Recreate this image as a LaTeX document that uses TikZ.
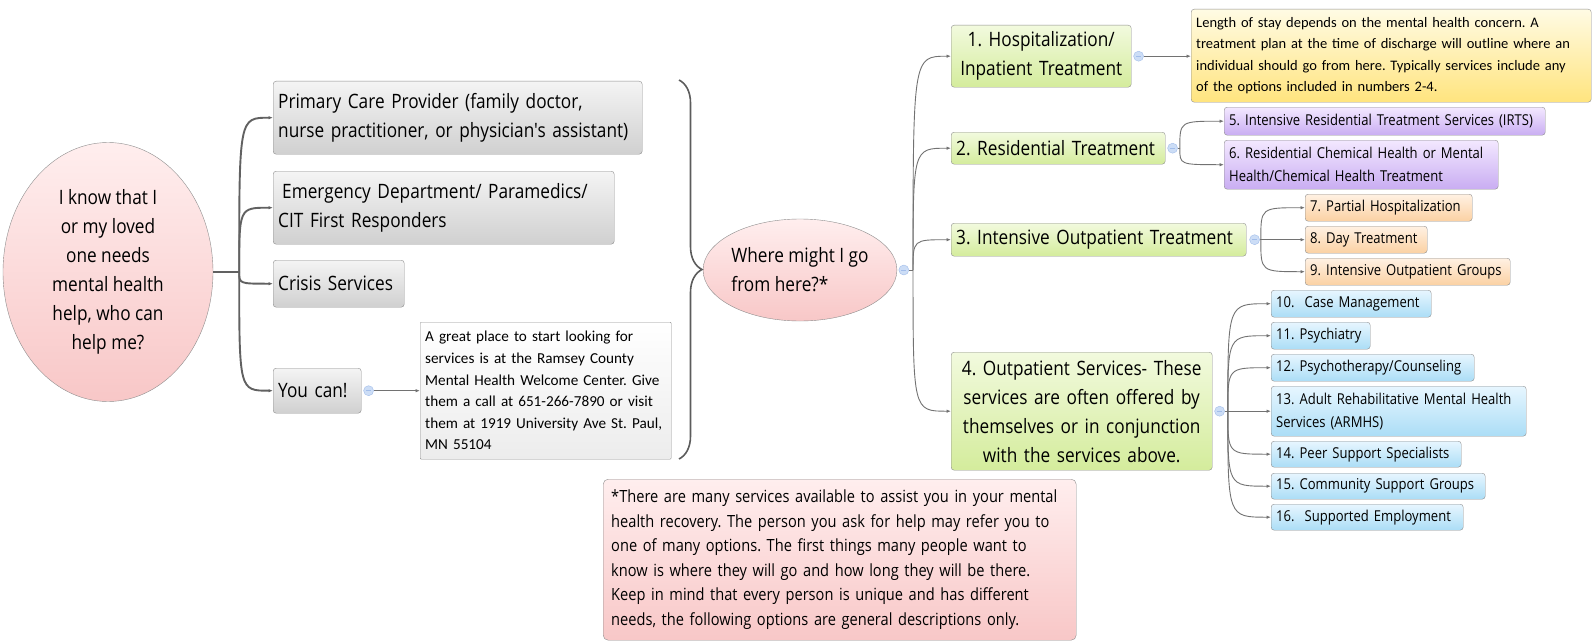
\documentclass[tikz,border=0pt]{standalone}
\usepackage{xcolor}
\usepackage{fontspec}
\usepackage{tikz}
\usetikzlibrary{shapes.geometric,arrows.meta,positioning,decorations.pathreplacing}

\newfontfamily\segoe[FakeStretch=0.87]{Open Sans}
\newfontfamily\calib{Carlito}
\newcommand{\bigtext}{\segoe\fontsize{19.8}{29}\selectfont}
\newcommand{\midtext}{\segoe\fontsize{16.8}{24.5}\selectfont}
\newcommand{\smalltext}{\segoe\fontsize{15}{23}\selectfont}
\newcommand{\notetext}{\calib\fontsize{15.2}{21.6}\selectfont}
\newcommand{\staytext}{\calib\fontsize{14.5}{21.6}\selectfont}
\hyphenpenalty=10000
\exhyphenpenalty=10000

\definecolor{boxline}{HTML}{8E8E8E}
\definecolor{greytop}{HTML}{F4F4F4}
\definecolor{greybot}{HTML}{D0D0D0}
\definecolor{greentop}{HTML}{F2FADE}
\definecolor{greenbot}{HTML}{D4EC9C}
\definecolor{yellowtop}{HTML}{FFFBE4}
\definecolor{yellowbot}{HTML}{FFE47E}
\definecolor{purpletop}{HTML}{F3E8FF}
\definecolor{purplebot}{HTML}{C9ADF2}
\definecolor{orangetop}{HTML}{FFF1E3}
\definecolor{orangebot}{HTML}{FBD1A3}
\definecolor{bluetop}{HTML}{E7F6FF}
\definecolor{bluebot}{HTML}{ABDDF6}
\definecolor{pinktop}{HTML}{FFEEEE}
\definecolor{pinkbot}{HTML}{F8C7C7}
\definecolor{papertop}{HTML}{FFFFFF}
\definecolor{paperbot}{HTML}{ECECEC}
\definecolor{wire}{HTML}{727272}
\definecolor{bracegrey}{HTML}{5C5C5C}
\definecolor{knobfill}{HTML}{CCDDF6}
\definecolor{knobedge}{HTML}{A2BDEA}

\begin{document}
\frenchspacing
\begin{tikzpicture}[x=1pt,y=-1pt]
        \tikzstyle{box} = [rectangle, draw=boxline, rounded corners=3pt, inner xsep=5pt, inner ysep=0pt, anchor=north west, align=left]
        \tikzstyle{grey} = [box, top color=greytop, bottom color=greybot, font=\bigtext]
        \tikzstyle{paper} = [box, top color=papertop, bottom color=paperbot, rounded corners=1pt, font=\notetext]
        \tikzstyle{green} = [box, top color=greentop, bottom color=greenbot, font=\bigtext]
        \tikzstyle{yellow} = [box, top color=yellowtop, bottom color=yellowbot, font=\staytext]
        \tikzstyle{purple} = [box, top color=purpletop, bottom color=purplebot, font=\smalltext]
        \tikzstyle{orange} = [box, top color=orangetop, bottom color=orangebot, font=\smalltext]
        \tikzstyle{blue} = [box, top color=bluetop, bottom color=bluebot, font=\smalltext]
        \tikzstyle{bubble} = [ellipse, draw=boxline, top color=pinktop, bottom color=pinkbot, inner sep=0pt, font=\bigtext]
        \tikzstyle{knob} = [circle, draw=knobedge, fill=knobfill, minimum size=10pt, inner sep=0pt,
            path picture={\draw[knobedge, line width=0.7pt] ([xshift=-2.5pt]path picture bounding box.center) -- ([xshift=2.5pt]path picture bounding box.center);}]
        \tikzstyle{wireline} = [draw=wire, line width=0.9pt]
        \tikzstyle{line} = [wireline, -{Latex[length=4.5pt,width=3.5pt]}]
        \tikzstyle{trunk} = [line, line width=1.9pt, draw=wire!85!black]
        \tikzstyle{brace} = [draw=bracegrey, line width=1.6pt, decorate, decoration={brace, amplitude=23pt}]

        \path[fill=white] (0,0) rectangle (1593,642);
        \useasboundingbox (0,0) rectangle (1593,642);

        % who can help
        \node [bubble, minimum width=210pt, minimum height=259pt, align=center] (ask) at (108,272) {I know that I\\or my loved\\one needs\\mental health\\help, who can\\help me?};
        \node [grey, text width=359pt, minimum height=73pt] (pcp) at (273,81) {Primary Care Provider (family doctor,\\nurse practitioner, or physician's assistant)};
        \node [grey, text width=331pt, minimum height=73pt] (emerg) at (273,171) {\hspace*{4pt}Emergency Department/ Paramedics/\\CIT First Responders};
        \node [grey, text width=121pt, minimum height=47pt] (crisis) at (273,260) {Crisis Services};
        \node [grey, text width=78pt, minimum height=45pt] (youcan) at (273,368) {You can!};
        \node [knob, right=2pt of youcan] (youknob) {};
        \node [paper, text width=241pt, minimum height=137pt] (welcome) at (420,322) {A great place to start looking for\\services is at the Ramsey County\\Mental Health Welcome Center. Give\\them a call at 651-266-7890 or visit\\them at 1919 University Ave St. Paul,\\MN 55104};

        % where to go
        \node [bubble, minimum width=185pt, minimum height=102pt, align=left] (where) at (800,270) {Where might I go\\from here?*};
        \node [knob, right=1.5pt of where] (whereknob) {};

        \node [green, text width=170pt, minimum height=62pt, align=center] (hosp) at (951,25) {1. Hospitalization/\\Inpatient Treatment};
        \node [knob, right=2pt of hosp] (hospknob) {};
        \node [yellow, text width=390pt, minimum height=93pt] (stay) at (1191,9) {Length of stay depends on the mental health concern. A\\treatment plan at the time of discharge will outline where an\\individual should go from here. Typically services include any\\of the options included in numbers 2-4.};

        \node [green, text width=204pt, minimum height=32pt] (resid) at (951,132) {2. Residential Treatment};
        \node [knob, right=2pt of resid] (residknob) {};
        \node [purple, text width=311pt, minimum height=28pt] (irts) at (1224,107) {5. Intensive Residential Treatment Services (IRTS)};
        \node [purple, text width=264pt, minimum height=49pt] (chem) at (1224,140) {6. Residential Chemical Health or Mental\\Health/Chemical Health Treatment};

        \node [green, text width=285pt, minimum height=33pt] (iop) at (951,223) {3. Intensive Outpatient Treatment};
        \node [knob, right=3pt of iop] (iopknob) {};
        \node [orange, text width=157pt, minimum height=27pt] (partial) at (1305,194) {7. Partial Hospitalization};
        \node [orange, text width=112pt, minimum height=27pt] (daytr) at (1305,226) {8. Day Treatment};
        \node [orange, text width=195pt, minimum height=27pt] (groups) at (1305,258) {9. Intensive Outpatient Groups};

        \node [green, text width=251pt, minimum height=118pt, align=center] (outp) at (951,352) {4. Outpatient Services- These\\services are often offered by\\themselves or in conjunction\\with the services above.};
        \node [knob, right=2pt of outp] (outpknob) {};
        \node [blue, text width=150pt, minimum height=27pt] (casemgmt) at (1271,290) {10.\ \ Case Management};
        \node [blue, text width=89pt, minimum height=27pt] (psych) at (1271,322) {11. Psychiatry};
        \node [blue, text width=193pt, minimum height=27pt] (therapy) at (1271,354) {12. Psychotherapy/Counseling};
        \node [blue, text width=245pt, minimum height=50pt] (armhs) at (1271,386) {13. Adult Rehabilitative Mental Health\\Services (ARMHS)};
        \node [blue, text width=180pt, minimum height=26pt] (peer) at (1271,441) {14. Peer Support Specialists};
        \node [blue, text width=204pt, minimum height=26pt] (community) at (1271,473) {15. Community Support Groups};
        \node [blue, text width=182pt, minimum height=26pt] (employ) at (1271,504) {16.\ \ Supported Employment};

        \node [box, top color=pinktop, bottom color=pinkbot, rounded corners=5pt, font=\midtext, inner xsep=8pt, text width=457pt, minimum height=161pt] (footnote) at (603,479) {*There are many services available to assist you in your mental\\health recovery. The person you ask for help may refer you to\\one of many options. The first things many people want to\\know is where they will go and how long they will be there.\\Keep in mind that every person is unique and has different\\needs, the following options are general descriptions only.};

        % branch points
        \coordinate (hubL) at ([xshift=26pt]ask.east);
        \coordinate (hubR) at ([xshift=4pt]whereknob.east);
        \coordinate (hubres) at ([xshift=2pt]residknob.east);
        \coordinate (hubiop) at ([xshift=1pt]iopknob.east);
        \coordinate (hubout) at ([xshift=3pt]outpknob.east);
        \coordinate (bracetop) at (679,80);
        \coordinate (bracebot) at (679,459);

        \path [trunk, -] (ask.east) -- (hubL);
        \foreach \n in {pcp,emerg,crisis,youcan}
            \path [trunk] (hubL) .. controls (hubL |- \n.west) .. (\n.west);
        \path [line] (youknob.east) -- (youknob.east -| welcome.west);

        \draw [brace] (bracetop) -- (bracebot);

        \path [wireline] (whereknob.east) -- (hubR);
        \foreach \n in {hosp,resid,iop,outp}
            \path [line] (hubR) .. controls (hubR |- \n.west) .. (\n.west);
        \path [line] (hospknob.east) -- (hospknob.east -| stay.west);

        \path [wireline] (residknob.east) -- (hubres);
        \foreach \n in {irts,chem}
            \path [line] (hubres) .. controls (hubres |- \n.west) .. (\n.west);

        \path [wireline] (iopknob.east) -- (hubiop);
        \foreach \n in {partial,daytr,groups}
            \path [line] (hubiop) .. controls (hubiop |- \n.west) .. (\n.west);

        \path [wireline] (outpknob.east) -- (hubout);
        \foreach \n in {casemgmt,psych,therapy,armhs,peer,community,employ}
            \path [line] (hubout) .. controls (hubout |- \n.west) .. (\n.west);
    \end{tikzpicture}
\end{document}
